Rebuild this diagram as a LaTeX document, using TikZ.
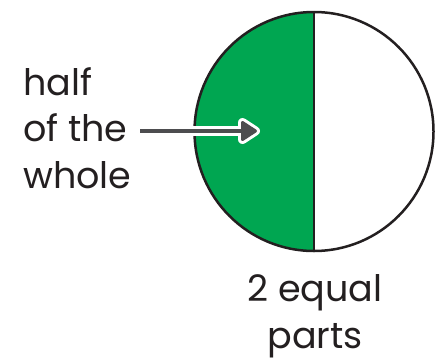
\documentclass[tikz,border=0pt]{standalone}
\usepackage{fontspec}
\setmainfont{Poppins}
\usetikzlibrary{calc}
\definecolor{halfgreen}{HTML}{00A651}
\definecolor{arrowgray}{HTML}{4D4D4F}
\definecolor{inkblack}{HTML}{231F20}
\tikzset{
  label text/.style={inkblack, inner sep=0pt, align=#1, font=\fontsize{36.5}{46.5}\selectfont},
  rim/.style={draw=inkblack, line width=2.5pt},
  divider/.style={draw=inkblack, line width=1.3pt},
  shaftline/.style={draw=arrowgray, line width=4.5pt},
  shaftglow/.style={draw=white, line width=10.5pt},
  headfill/.style={fill=arrowgray, draw=arrowgray, line width=3pt, line join=round},
  headglow/.style={fill=white, draw=white, line width=9pt, line join=round}
}
\begin{document}
\begin{tikzpicture}[x=1pt,y=1pt]
\useasboundingbox (0,0) rectangle (441,360);
% circle
\coordinate (c) at (314,228.5);
\fill[halfgreen] ($(c)+(0,119.5)$) arc[start angle=90,end angle=270,radius=119.5] -- cycle;
\node[circle, minimum size=239pt, inner sep=0pt, rim] (whole) at (c) {};
\draw[divider] (whole.north) -- (whole.south);
% arrow
\coordinate (tail) at (140,229);
\coordinate (tip) at (255.5,229);
\draw[shaftglow] ($(whole.west)+(-2,0.5)$) -- ($(tip)+(-8,0)$);
\filldraw[headglow] (tip) -- ++(-13,8.5) -- ++(0,-17) -- cycle;
\draw[shaftline] (tail) -- ($(tip)+(-8,0)$);
\filldraw[headfill] (tip) -- ++(-13,8.5) -- ++(0,-17) -- cycle;
% labels
\node[label text=left, anchor=base west] (lbl) at (23,172) {half\\of the\\whole};
\node[label text=center, anchor=base] (parts) at (315,12) {2 equal\\parts};
\end{tikzpicture}
\end{document}
